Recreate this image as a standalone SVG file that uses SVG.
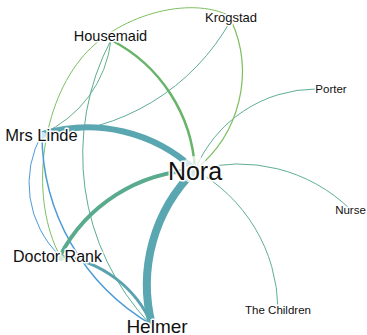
<svg xmlns="http://www.w3.org/2000/svg" width="367" height="335" viewBox="0 0 367 335">
<style>
.lk{fill:none;stroke-linecap:round}
.lbl{font-family:"Liberation Sans",Arial,sans-serif;fill:#111;text-anchor:middle;stroke:#fff;stroke-width:3;stroke-linejoin:round;paint-order:stroke}
</style>
<rect width="367" height="335" fill="#fff"/>
<g id="links">
<path class="lk" d="M60 256 C30 200 40 110 80 60 C115 15 190 -5 230 16" stroke="#7cbf60" stroke-width="1"/>
<path class="lk" d="M231 20 A220.7 220.7 0 0 1 42 134" stroke="#5fab9c" stroke-width="1"/>
<path class="lk" d="M111 40 A116.6 116.6 0 0 1 42 134" stroke="#62b08a" stroke-width="1"/>
<path class="lk" d="M150 324 A246 246 0 0 1 111 40" stroke="#5aae8f" stroke-width="1"/>
<path class="lk" d="M60 256 A100 100 0 0 1 42 134" stroke="#4b9bd6" stroke-width="1"/>
<path class="lk" d="M152 325 A220.4 220.4 0 0 1 42 134" stroke="#4b9bd6" stroke-width="1.5"/>
<path class="lk" d="M60 256 A115 115 0 0 1 152 325" stroke="#5aa2b0" stroke-width="3"/>
<path class="lk" d="M195 170 A131 131 0 0 1 316 89" stroke="#5fae98" stroke-width="1"/>
<path class="lk" d="M195 170 A159.8 159.8 0 0 1 350 209" stroke="#5fae98" stroke-width="1"/>
<path class="lk" d="M195 170 A161 161 0 0 1 278 308" stroke="#5fae98" stroke-width="1"/>
<path class="lk" d="M231 20 A125 125 0 0 1 195 170" stroke="#7cbe5e" stroke-width="1.2"/>
<path class="lk" d="M111 40 A154.8 154.8 0 0 1 195 170" stroke="#68b46a" stroke-width="2.5"/>
<path class="lk" d="M60 256 A160.1 160.1 0 0 1 195 170" stroke="#5aab8e" stroke-width="4"/>
<path class="lk" d="M42 134 A157.2 157.2 0 0 1 195 170" stroke="#5aa6b1" stroke-width="6"/>
<path class="lk" d="M152 325 A160.9 160.9 0 0 1 195 170" stroke="#5aa6b1" stroke-width="8"/>
</g>
<g id="node-nora"><circle cx="195" cy="170" r="14" fill="#fff" fill-opacity="0.75"/><text class="lbl" x="195" y="180" font-size="25">Nora</text></g>
<g id="node-helmer"><text class="lbl" x="157" y="332.5" font-size="19">Helmer</text></g>
<g id="node-mrslinde"><circle cx="43" cy="135" r="3" fill="#cfe6f6"/><text class="lbl" x="41.5" y="140.5" font-size="16.5">Mrs Linde</text></g>
<g id="node-doctorrank"><circle cx="61" cy="258" r="3" fill="#d3eedd"/><text class="lbl" x="57.5" y="262" font-size="16">Doctor Rank</text></g>
<g id="node-housemaid"><text class="lbl" x="110.5" y="40.5" font-size="14.5">Housemaid</text></g>
<g id="node-krogstad"><text class="lbl" x="231" y="22" font-size="13">Krogstad</text></g>
<g id="node-porter"><text class="lbl" x="331" y="93" font-size="11.5">Porter</text></g>
<g id="node-nurse"><text class="lbl" x="350.5" y="214" font-size="11.5">Nurse</text></g>
<g id="node-children"><text class="lbl" x="278" y="314" font-size="11.5">The Children</text></g>
</svg>
